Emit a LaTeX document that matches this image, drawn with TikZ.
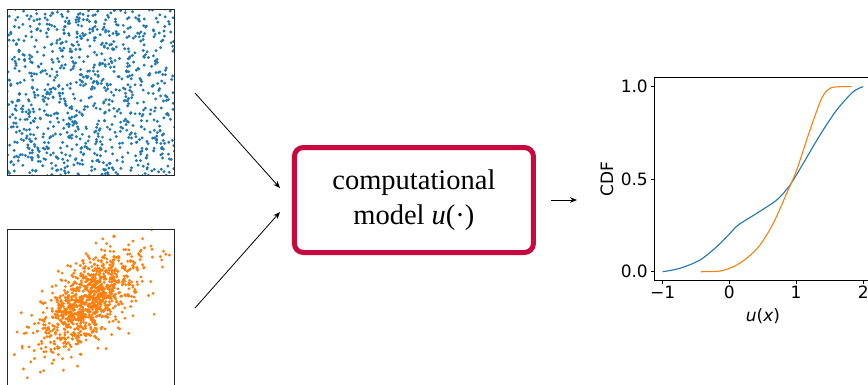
\documentclass[tikz,border=0pt]{standalone}
\usepackage{fontspec}
\setmainfont{Liberation Serif}
\newfontfamily\dejavu{DejaVu Sans}
\usetikzlibrary{arrows.meta}
\definecolor{mplblue}{HTML}{1F77B4}
\definecolor{mplorange}{HTML}{FF7F0E}
\definecolor{modelred}{RGB}{200,8,62}
\begin{document}
\begin{tikzpicture}[x=1pt,y=-1pt,
  arr/.style={-{Stealth[length=7pt,width=5.5pt]}, line width=0.8pt},
  frame/.style={draw=black!85, line width=0.9pt, inner sep=0pt, outer sep=0pt},
  modelbox/.style={draw=modelred, line width=5pt, rounded corners=9pt, inner sep=0pt,
    minimum width=239pt, minimum height=105pt, align=center,
    font=\fontsize{28.5}{35}\selectfont},
  ticklab/.style={font=\dejavu\fontsize{17}{20}\selectfont, inner sep=0pt},
  spine/.style={line width=0.9pt, black},
  curve/.style={line width=1.1pt, line join=round}]
\useasboundingbox (0,0) rectangle (868,384);
\clip (0,0) rectangle (868,384);

% ---- uniform samples (top) ----
\begin{scope}
  \clip (7,9) rectangle (174,175);
  \pgfmathsetseed{7}
  \foreach \i in {1,...,950}{
    \pgfmathsetmacro\pxA{6+169*rnd}
    \pgfmathsetmacro\pyA{8+168*rnd}
    \fill[mplblue] (\pxA,\pyA) circle (1.6);
  }
\end{scope}
\node[frame, minimum width=167pt, minimum height=166pt, anchor=north west] (unif) at (7,9) {};

% ---- gaussian samples (bottom) ----
\begin{scope}
  \clip (7,229) rectangle (174,400);
  \pgfmathsetseed{11}
  \foreach \i in {1,...,1000}{
    \pgfmathsetmacro\uA{0.0005+0.999*rnd}
    \pgfmathsetmacro\uB{rnd}
    \pgfmathsetmacro\rr{sqrt(-2*ln(\uA))}
    \pgfmathsetmacro\zA{\rr*cos(360*\uB)}
    \pgfmathsetmacro\zB{\rr*sin(360*\uB)}
    \fill[mplorange] ({90+25*\zA},{301-25*(0.6*\zA+0.8*\zB)}) circle (1.6);
  }
\end{scope}
\node[frame, minimum width=167pt, minimum height=170pt, anchor=north west] (gauss) at (7,229) {};

% ---- model ----
\node[modelbox] (model) at (413.9,200) {computational\\model {\itshape u}(·)};

\coordinate (s1) at (195,93);
\coordinate (s2) at (195,308);
\coordinate (e1) at (280,188);
\coordinate (e2) at (280,212);
\coordinate (cdfin) at (577,200);
\draw[arr] (s1) -- (e1);
\draw[arr] (s2) -- (e2);
\draw[arr, shorten <=15pt] (model.east) -- (cdfin);

% ---- CDF plot ----
\coordinate (axtl) at (654.3,77.3);
\coordinate (axbl) at (654.3,280.7);
\coordinate (axtr) at (880,77.3);
\coordinate (axbr) at (880,280.7);
\draw[spine] (axtr) -- (axtl) -- (axbl) -- (axbr);

\foreach \y/\lab in {86.7/1.0, 179.3/0.5, 271.7/0.0}{
  \draw[spine] (651,\y) -- (654.3,\y);
  \node[ticklab, anchor=east] at (648,\y) {\lab};
}
\foreach \x/\lab in {662.7/{−1}, 729.3/0, 796/1, 863.3/2}{
  \draw[spine] (\x,280.7) -- (\x,284);
  \node[ticklab, anchor=north] at (\x,285.5) {\lab};
}
\node[ticklab, rotate=90] (ylab) at (607,179) {CDF};
\node[ticklab] (xlab) at (763,316.5) {\itshape u\upshape(\itshape x\upshape)};

\draw[mplblue, curve] plot[smooth, tension=0.5] coordinates {(662.7,271.7) (680,268.3) (700,260) (716.7,246.7) (730,233.3) (738.3,225) (756.7,213.3) (776.7,200) (790,185) (803.3,163.3) (820,135) (836.7,110) (853.3,91.7) (863.3,86.7)};
\draw[mplorange, curve] plot[smooth, tension=0.5] coordinates {(701,271.7) (720,271) (733.3,266.7) (746.7,258.3) (760,245) (773.3,223.3) (786.7,193.3) (796.7,170) (810,130) (821.7,98.3) (830,88.3) (840,86.7) (851.7,86.7)};
\end{tikzpicture}
\end{document}
